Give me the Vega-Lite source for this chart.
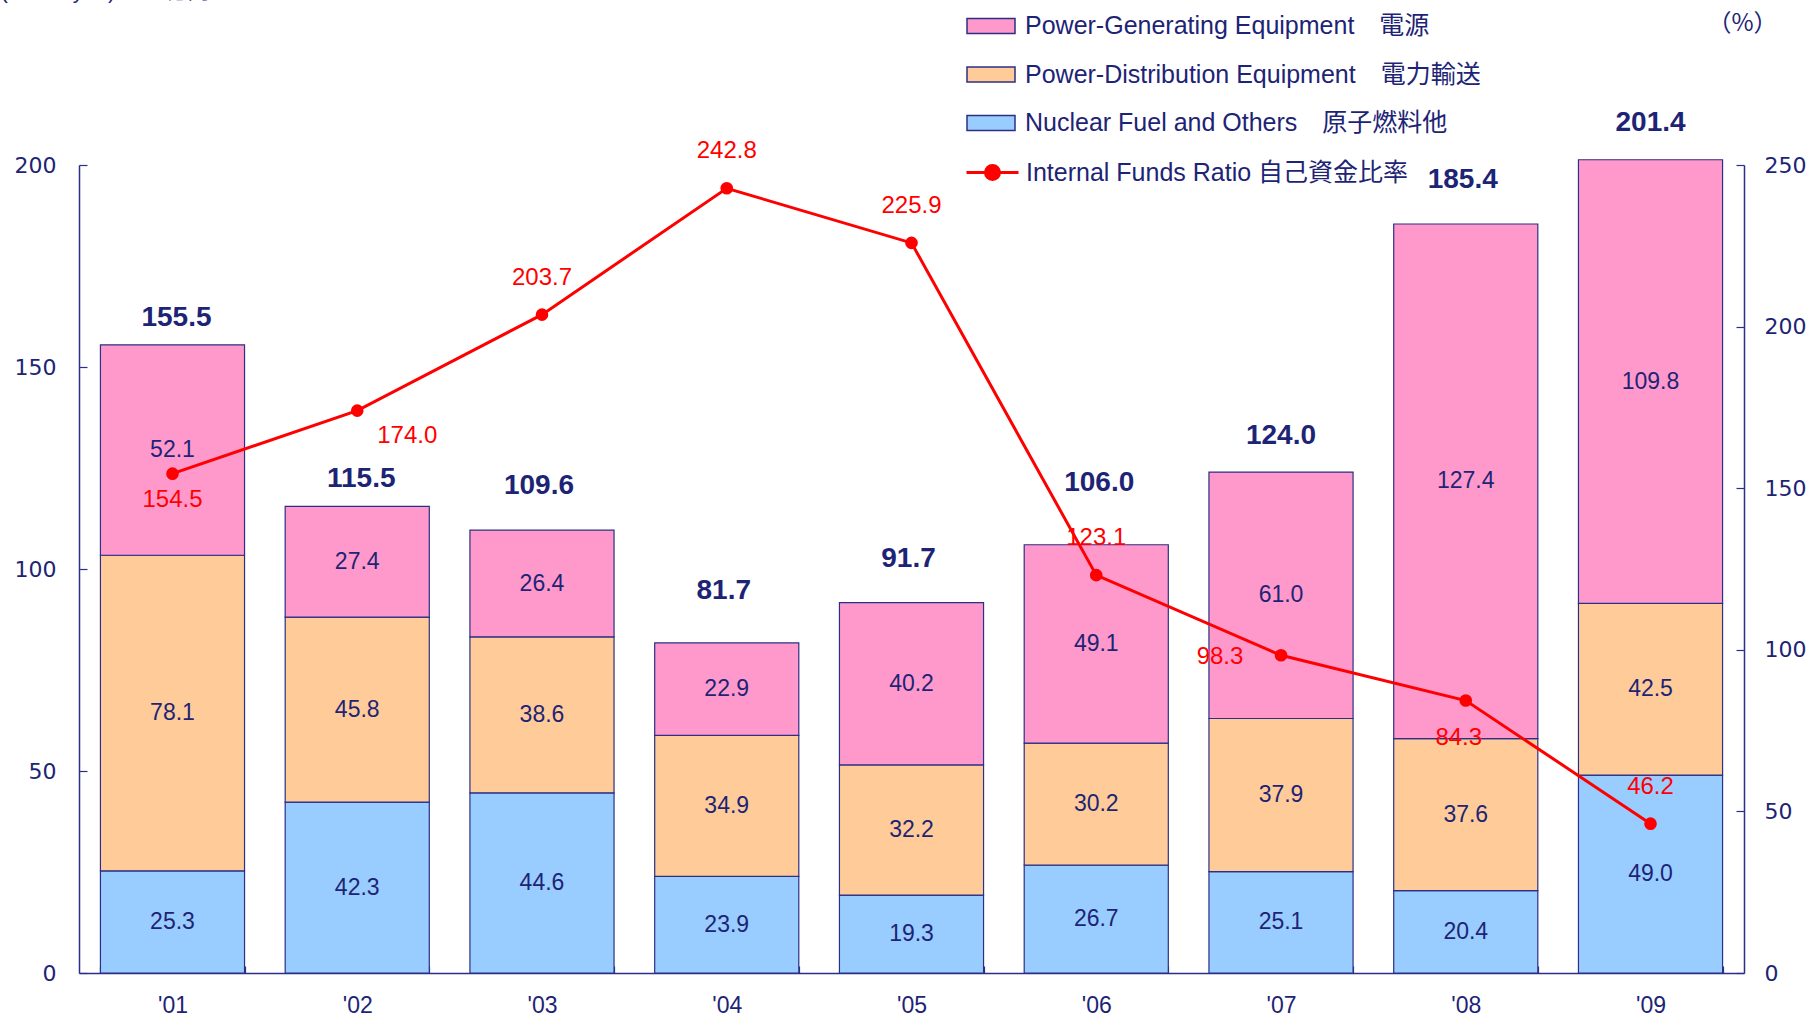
{
  "$schema": "https://vega.github.io/schema/vega-lite/v6.json",
  "width": 1665,
  "height": 808,
  "autosize": "none",
  "padding": {"left": 79, "top": 165, "right": 67, "bottom": 43},
  "background": "#ffffff",
  "config": {
    "view": {"stroke": null},
    "font": "Liberation Sans, Noto Sans CJK JP, sans-serif",
    "text": {"font": "Liberation Sans, Noto Sans CJK JP, sans-serif"}
  },
  "datasets": {
    "bars": [
      {"year": "'01", "category": "Nuclear Fuel and Others　原子燃料他", "value": 25.3},
      {"year": "'01", "category": "Power-Distribution Equipment　電力輸送", "value": 78.1},
      {"year": "'01", "category": "Power-Generating Equipment　電源", "value": 52.1},
      {"year": "'02", "category": "Nuclear Fuel and Others　原子燃料他", "value": 42.3},
      {"year": "'02", "category": "Power-Distribution Equipment　電力輸送", "value": 45.8},
      {"year": "'02", "category": "Power-Generating Equipment　電源", "value": 27.4},
      {"year": "'03", "category": "Nuclear Fuel and Others　原子燃料他", "value": 44.6},
      {"year": "'03", "category": "Power-Distribution Equipment　電力輸送", "value": 38.6},
      {"year": "'03", "category": "Power-Generating Equipment　電源", "value": 26.4},
      {"year": "'04", "category": "Nuclear Fuel and Others　原子燃料他", "value": 23.9},
      {"year": "'04", "category": "Power-Distribution Equipment　電力輸送", "value": 34.9},
      {"year": "'04", "category": "Power-Generating Equipment　電源", "value": 22.9},
      {"year": "'05", "category": "Nuclear Fuel and Others　原子燃料他", "value": 19.3},
      {"year": "'05", "category": "Power-Distribution Equipment　電力輸送", "value": 32.2},
      {"year": "'05", "category": "Power-Generating Equipment　電源", "value": 40.2},
      {"year": "'06", "category": "Nuclear Fuel and Others　原子燃料他", "value": 26.7},
      {"year": "'06", "category": "Power-Distribution Equipment　電力輸送", "value": 30.2},
      {"year": "'06", "category": "Power-Generating Equipment　電源", "value": 49.1},
      {"year": "'07", "category": "Nuclear Fuel and Others　原子燃料他", "value": 25.1},
      {"year": "'07", "category": "Power-Distribution Equipment　電力輸送", "value": 37.9},
      {"year": "'07", "category": "Power-Generating Equipment　電源", "value": 61.0},
      {"year": "'08", "category": "Nuclear Fuel and Others　原子燃料他", "value": 20.4},
      {"year": "'08", "category": "Power-Distribution Equipment　電力輸送", "value": 37.6},
      {"year": "'08", "category": "Power-Generating Equipment　電源", "value": 127.4},
      {"year": "'09", "category": "Nuclear Fuel and Others　原子燃料他", "value": 49.0},
      {"year": "'09", "category": "Power-Distribution Equipment　電力輸送", "value": 42.5},
      {"year": "'09", "category": "Power-Generating Equipment　電源", "value": 109.8}
    ],
    "totals": [
      {"year": "'01", "total": 155.5, "ratio": 154.5},
      {"year": "'02", "total": 115.5, "ratio": 174.0},
      {"year": "'03", "total": 109.6, "ratio": 203.7},
      {"year": "'04", "total": 81.7, "ratio": 242.8},
      {"year": "'05", "total": 91.7, "ratio": 225.9},
      {"year": "'06", "total": 106.0, "ratio": 123.1},
      {"year": "'07", "total": 124.0, "ratio": 98.3},
      {"year": "'08", "total": 185.4, "ratio": 84.3},
      {"year": "'09", "total": 201.4, "ratio": 46.2}
    ]
  },
  "encoding": {
    "x": {
      "field": "year",
      "type": "nominal",
      "sort": null,
      "title": null,
      "scale": {"paddingInner": 0.22, "paddingOuter": 0.116},
      "axis": {
        "labelAngle": 0,
        "labelFont": "Liberation Sans, sans-serif",
        "labelFontSize": 23,
        "labelColor": "#1d2475",
        "labelPadding": 28,
        "labelBaseline": "top",
        "tickBand": "extent",
        "tickSize": -7,
        "tickColor": "#2b2f85",
        "domainColor": "#2b2f85",
        "domainWidth": 1.5,
        "tickWidth": 1.2,
        "grid": false
      }
    }
  },
  "layer": [
    {
      "layer": [
        {
          "data": {"name": "bars"},
          "mark": {"type": "bar", "stroke": "#2b2f85", "strokeWidth": 1.2},
          "encoding": {
            "y": {
              "aggregate": "sum",
              "field": "value",
              "type": "quantitative",
              "stack": "zero",
              "scale": {"domain": [0, 200], "nice": false},
              "axis": {
                "orient": "left",
                "values": [0, 50, 100, 150, 200],
                "grid": false,
                "title": "(Billion yen)　　 億円",
                "titleAngle": 0,
                "titleAlign": "left",
                "titleBaseline": "alphabetic",
                "titleX": -79,
                "titleY": -168,
                "titleFont": "Liberation Sans, Noto Sans CJK JP, sans-serif",
                "titleFontSize": 22,
                "titleFontWeight": "normal",
                "titleColor": "#1d2475",
                "labelFont": "DejaVu Sans",
                "labelFontSize": 22,
                "labelColor": "#1d2475",
                "labelPadding": 31,
                "tickSize": -8,
                "tickColor": "#2b2f85",
                "domainColor": "#2b2f85",
                "domainWidth": 1.5,
                "tickWidth": 1.2
              }
            },
            "color": {
              "field": "category",
              "type": "nominal",
              "scale": {
                "domain": ["Power-Generating Equipment　電源", "Power-Distribution Equipment　電力輸送", "Nuclear Fuel and Others　原子燃料他"],
                "range": ["#ff99cc", "#ffcc99", "#99ccff"]
              },
              "legend": {
                "title": null,
                "orient": "none",
                "legendX": 887,
                "legendY": -164,
                "padding": 0,
                "rowPadding": 10.5,
                "symbolType": "M-1,-0.31H1V0.31H-1Z",
                "symbolSize": 2304,
                "symbolStrokeColor": "#2b2f85",
                "symbolStrokeWidth": 1.5,
                "symbolOpacity": 1,
                "labelFont": "Liberation Sans, Noto Sans CJK JP, sans-serif",
                "labelFontSize": 25,
                "labelColor": "#1d2475",
                "labelOffset": 9,
                "labelLimit": 700
              }
            },
            "order": {"field": "category", "sort": "ascending"}
          }
        },
        {
          "data": {"name": "bars"},
          "transform": [
            {"stack": "value", "groupby": ["year"], "sort": [{"field": "category", "order": "ascending"}], "as": ["v0", "v1"]},
            {"calculate": "(datum.v0 + datum.v1) / 2", "as": "mid"}
          ],
          "mark": {"type": "text", "fontSize": 23, "color": "#1d2475", "baseline": "middle", "align": "center"},
          "encoding": {
            "y": {"field": "mid", "type": "quantitative"},
            "text": {"field": "value", "type": "quantitative", "format": ".1f"}
          }
        },
        {
          "data": {"name": "totals"},
          "transform": [{"filter": {"field": "year", "oneOf": ["'01", "'02"]}}],
          "mark": {"type": "text", "fontSize": 28, "fontWeight": "bold", "color": "#1d2475", "baseline": "middle", "dy": -27, "dx": 4},
          "encoding": {
            "y": {"field": "total", "type": "quantitative"},
            "text": {"field": "total", "type": "quantitative", "format": ".1f"}
          }
        },
        {
          "data": {"name": "totals"},
          "transform": [{"filter": {"field": "year", "oneOf": ["'07", "'09"]}}],
          "mark": {"type": "text", "fontSize": 28, "fontWeight": "bold", "color": "#1d2475", "baseline": "middle", "dy": -36},
          "encoding": {
            "y": {"field": "total", "type": "quantitative"},
            "text": {"field": "total", "type": "quantitative", "format": ".1f"}
          }
        },
        {
          "data": {"name": "totals"},
          "transform": [{"filter": {"field": "year", "oneOf": ["'03", "'05", "'08"]}}],
          "mark": {"type": "text", "fontSize": 28, "fontWeight": "bold", "color": "#1d2475", "baseline": "middle", "dy": -44, "dx": -3},
          "encoding": {
            "y": {"field": "total", "type": "quantitative"},
            "text": {"field": "total", "type": "quantitative", "format": ".1f"}
          }
        },
        {
          "data": {"name": "totals"},
          "transform": [{"filter": {"field": "year", "oneOf": ["'04"]}}],
          "mark": {"type": "text", "fontSize": 28, "fontWeight": "bold", "color": "#1d2475", "baseline": "middle", "dy": -52, "dx": -3},
          "encoding": {
            "y": {"field": "total", "type": "quantitative"},
            "text": {"field": "total", "type": "quantitative", "format": ".1f"}
          }
        },
        {
          "data": {"name": "totals"},
          "transform": [{"filter": {"field": "year", "oneOf": ["'06"]}}],
          "mark": {"type": "text", "fontSize": 28, "fontWeight": "bold", "color": "#1d2475", "baseline": "middle", "dy": -62, "dx": 3},
          "encoding": {
            "y": {"field": "total", "type": "quantitative"},
            "text": {"field": "total", "type": "quantitative", "format": ".1f"}
          }
        }
      ]
    },
    {
      "data": {"name": "totals"},
      "layer": [
        {
          "mark": {"type": "line", "strokeWidth": 3},
          "encoding": {
            "y": {
              "field": "ratio",
              "type": "quantitative",
              "scale": {"domain": [0, 250], "nice": false},
              "axis": {
                "orient": "right",
                "values": [0, 50, 100, 150, 200, 250],
                "grid": false,
                "title": "（%）",
                "titleAngle": 0,
                "titleAlign": "center",
                "titleBaseline": "middle",
                "titleX": -2,
                "titleY": -142,
                "titleFont": "Noto Sans CJK JP, Liberation Sans, sans-serif",
                "titleFontSize": 24,
                "titleFontWeight": "normal",
                "titleColor": "#1d2475",
                "labelFont": "DejaVu Sans",
                "labelFontSize": 22,
                "labelColor": "#1d2475",
                "labelPadding": 28,
                "tickSize": -8,
                "tickColor": "#2b2f85",
                "domainColor": "#2b2f85",
                "domainWidth": 1.5,
                "tickWidth": 1.2
              }
            },
            "stroke": {
              "datum": "Internal Funds Ratio 自己資金比率",
              "type": "nominal",
              "scale": {"range": ["#ff0000"]},
              "legend": {
                "title": null,
                "orient": "none",
                "legendX": 886,
                "legendY": -20,
                "padding": 0,
                "symbolType": "M-1,0H1M-0.27,0A0.27,0.27,0,1,0,0.27,0A0.27,0.27,0,1,0,-0.27,0Z",
                "symbolSize": 2704,
                "symbolFillColor": "#ff0000",
                "symbolStrokeWidth": 3,
                "symbolOpacity": 1,
                "labelFont": "Liberation Sans, Noto Sans CJK JP, sans-serif",
                "labelFontSize": 25,
                "labelColor": "#1d2475",
                "labelOffset": 6,
                "labelLimit": 700
              }
            }
          }
        },
        {
          "mark": {"type": "point", "filled": true, "shape": "circle", "size": 160, "color": "#ff0000", "opacity": 1},
          "encoding": {
            "y": {"field": "ratio", "type": "quantitative"}
          }
        },
        {
          "transform": [{"filter": {"field": "year", "oneOf": ["'03", "'04", "'05", "'06", "'09"]}}],
          "mark": {"type": "text", "fontSize": 24, "color": "#ff0000", "baseline": "middle", "dy": -37},
          "encoding": {
            "y": {"field": "ratio", "type": "quantitative"},
            "text": {"field": "ratio", "type": "quantitative", "format": ".1f"}
          }
        },
        {
          "transform": [{"filter": {"field": "year", "oneOf": ["'01"]}}],
          "mark": {"type": "text", "fontSize": 24, "color": "#ff0000", "baseline": "middle", "dy": 26},
          "encoding": {
            "y": {"field": "ratio", "type": "quantitative"},
            "text": {"field": "ratio", "type": "quantitative", "format": ".1f"}
          }
        },
        {
          "transform": [{"filter": {"field": "year", "oneOf": ["'02"]}}],
          "mark": {"type": "text", "fontSize": 24, "color": "#ff0000", "baseline": "middle", "dy": 25, "dx": 50},
          "encoding": {
            "y": {"field": "ratio", "type": "quantitative"},
            "text": {"field": "ratio", "type": "quantitative", "format": ".1f"}
          }
        },
        {
          "transform": [{"filter": {"field": "year", "oneOf": ["'07"]}}],
          "mark": {"type": "text", "fontSize": 24, "color": "#ff0000", "baseline": "middle", "dy": 2, "dx": -61},
          "encoding": {
            "y": {"field": "ratio", "type": "quantitative"},
            "text": {"field": "ratio", "type": "quantitative", "format": ".1f"}
          }
        },
        {
          "transform": [{"filter": {"field": "year", "oneOf": ["'08"]}}],
          "mark": {"type": "text", "fontSize": 24, "color": "#ff0000", "baseline": "middle", "dy": 37, "dx": -7},
          "encoding": {
            "y": {"field": "ratio", "type": "quantitative"},
            "text": {"field": "ratio", "type": "quantitative", "format": ".1f"}
          }
        }
      ]
    }
  ],
  "resolve": {"scale": {"y": "independent", "color": "independent"}}
}
